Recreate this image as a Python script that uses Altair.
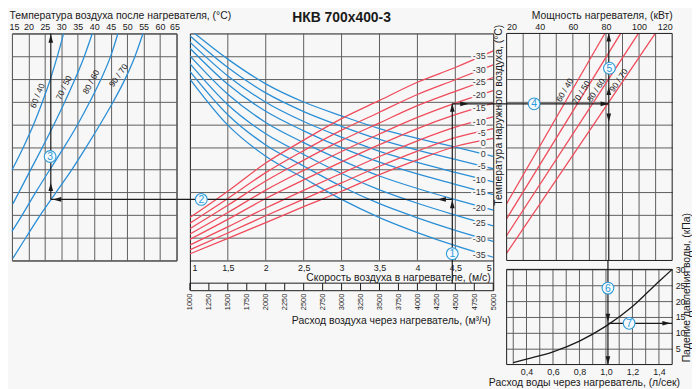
import altair as alt
import pandas as pd

FONT = "Liberation Sans"
BG = "#f7f7f7"
INK = "#1a1a1a"
GRID = "#5e5e5e"
BLUE = "#2b8fd6"
RED = "#ef4b5b"
CIRC = "#2f9ad8"

# ---------------- common grid rows (0..100 nomogram units) ----------------
grid_rows = [0, 10, 20, 30, 40, 50, 60, 70, 80, 90, 100]
inner_rows = [10, 20, 30, 40, 50, 60, 70, 80, 90]

# ---------------- left panel: air temperature after heater ----------------
left_names = ["60 / 40", "70 / 50", "80 / 60", "90 / 70"]
left_t_6040 = [30.7, 28.8, 26.7, 24.3, 21.6, 18.5, 15.0]
left_g_6040 = [100, 90, 80, 70, 60, 50, 39.8]
left_t_7050 = [39.4, 37.0, 34.2, 31.1, 27.8, 24.3, 20.7, 15.3]
left_g_7050 = [100, 90, 80, 70, 60, 50, 40, 25]
left_t_8060 = [47.2, 45.0, 42.1, 38.7, 35.0, 30.9, 26.5, 22.2, 18.1, 15.0]
left_g_8060 = [100, 90, 80, 70, 60, 50, 40, 30, 20, 12.8]
left_t_9070 = [54.8, 52.4, 49.4, 45.8, 41.8, 37.6, 33.2, 28.4, 23.6, 19.2, 15.3]
left_g_9070 = [100, 90, 80, 70, 60, 50, 40, 30, 20, 10, 1]
left_label_t = [22.7, 30.7, 39.0, 47.3]
left_label_g = [72.6, 76.1, 78.7, 81.6]
left_label_angle = [292, 296, 298, 305]
left_ticks = [15, 20, 25, 30, 35, 40, 45, 50, 55, 60, 65]

# ---------------- centre panel: air velocity ----------------
vel = [1.0, 1.5, 2.0, 2.5, 3.0, 3.5, 4.0, 4.5, 5.0]
blue_names = ["0", "-5", "-10", "-15", "-20", "-25", "-30", "-35"]
blue_0 = [101.7, 88.7, 77.8, 69.8, 63.7, 58.1, 53.8, 49.9, 45.9]
blue_m5 = [99.0, 85.0, 73.8, 65.6, 59.1, 53.3, 48.6, 44.5, 40.4]
blue_m10 = [96.2, 81.3, 69.7, 61.2, 54.3, 48.1, 43.2, 38.8, 34.6]
blue_m15 = [93.5, 77.6, 65.7, 57.1, 49.7, 43.3, 38.1, 33.5, 29.0]
blue_m20 = [90.1, 73.2, 60.8, 51.9, 44.1, 37.2, 31.7, 26.8, 22.2]
blue_m25 = [86.7, 68.6, 55.8, 46.7, 38.3, 31.1, 25.2, 20.0, 15.2]
blue_m30 = [83.3, 64.2, 50.9, 41.6, 32.6, 25.0, 18.8, 13.3, 8.4]
blue_m35 = [79.9, 59.6, 45.9, 36.3, 26.9, 18.9, 12.3, 6.5, 1.4]
blue_label_g = [46.9, 41.4, 35.6, 30.1, 23.2, 16.3, 9.4, 2.4]

red_names = ["-35", "-30", "-25", "-20", "-15", "-10", "-5", "0"]
red_m35 = [18.9, 30.5, 42.9, 53.0, 62.5, 70.5, 78.5, 85.0, 92.3]
red_m30 = [16.4, 27.3, 38.7, 48.4, 57.4, 65.3, 73.1, 79.6, 86.2]
red_m25 = [14.0, 24.3, 35.0, 44.2, 52.9, 60.6, 68.2, 74.5, 80.6]
red_m20 = [11.6, 21.1, 31.0, 39.7, 48.0, 55.7, 63.0, 69.3, 74.8]
red_m15 = [9.3, 18.1, 27.3, 35.5, 43.4, 51.0, 58.1, 64.2, 69.3]
red_m10 = [6.8, 14.8, 23.1, 30.9, 38.4, 45.8, 52.7, 58.7, 63.2]
red_m5 = [4.7, 12.1, 19.7, 27.0, 34.2, 41.5, 48.2, 54.1, 58.1]
red_0 = [2.9, 9.7, 16.7, 23.7, 30.5, 37.8, 44.3, 50.2, 53.8]
red_label_g = [90.1, 84.0, 78.5, 72.7, 67.2, 61.1, 56.0, 51.6]
curve_label_v = 4.9

vel_ticks = [1, 1.5, 2, 2.5, 3, 3.5, 4, 4.5, 5]
vel_grid = [1.5, 2, 2.5, 3, 3.5, 4, 4.5]
airflow_ticks = list(range(1000, 5001, 250))
ruler_top = -10.0      # level of the airflow ruler's upper line (below the velocity strip)
ruler_bottom = -13.1   # bottom of the centre column

# ---------------- right top: heater power ----------------
pow_kw_6040 = [20, 79.3]
pow_g_6040 = [25.0, 100]
pow_kw_7050 = [20, 88.9]
pow_g_7050 = [18.4, 100]
pow_kw_8060 = [20, 99.6]
pow_g_8060 = [11.0, 100]
pow_kw_9070 = [20, 109.8]
pow_g_9070 = [3.2, 100]
pow_label_kw = [55.0, 65.0, 74.0, 87.6]
pow_label_g = [75.1, 74.0, 75.1, 79.4]
pow_label_angle = [300, 302, 303, 304]
power_ticks = [20, 30, 40, 50, 60, 70, 80, 90, 100, 110, 120]
power_grid = [30, 40, 50, 60, 70, 80, 90, 100, 110]

# ---------------- right bottom: water pressure drop ----------------
water_flow = [0.3, 0.4, 0.6, 0.8, 1.0, 1.2, 1.4, 1.5]
pressure_drop = [0.6, 1.7, 4.0, 7.4, 12.1, 18.3, 26.2, 30.0]
flow_ticks = [0.3, 0.4, 0.5, 0.6, 0.7, 0.8, 0.9, 1.0, 1.1, 1.2, 1.3, 1.4]
dp_ticks = [5, 10, 15, 20, 25, 30]

# ---------------- worked example (arrows and numbered steps) ----------------
ex_vel = 4.46
ex_tout_g = 26.9
ex_pow_g = 69.0
ex_tair = 26.8
ex_power = 81.7
ex_flow = 1.015
ex_dp = 13.0

# ====================================================================
def lines_df(xs_list, ys_list, names):
    frames = []
    for xs, ys, n in zip(xs_list, ys_list, names):
        frames.append(pd.DataFrame({"x": xs, "y": ys, "name": n}))
    return pd.concat(frames, ignore_index=True)


def arrow_layer(X, Y, xs, ys, angs):
    df = pd.DataFrame({"x": xs, "y": ys, "ang": angs})
    return alt.Chart(df).mark_point(
        shape="M0,-1L0.55,1L-0.55,1Z", filled=True, size=72, color=INK, opacity=1, strokeWidth=0
    ).encode(x=X, y=Y, angle=alt.Angle("ang:Q", scale=None))


def step_layers(X, Y, xs, ys, nums):
    df = pd.DataFrame({"x": xs, "y": ys, "text": nums})
    c = alt.Chart(df).mark_point(
        shape="circle", filled=True, fill="#f4f9fd", stroke=CIRC, strokeWidth=1.1, size=140, opacity=1
    ).encode(x=X, y=Y)
    t = alt.Chart(df).mark_text(
        font=FONT, fontSize=10.5, color=CIRC, align="center", baseline="middle", dy=0.5
    ).encode(x=X, y=Y, text="text:N")
    return [c, t]


def vrules(X, Y, xs, y, y2, color=INK, width=1.2):
    df = pd.DataFrame({"x": xs, "y": [y] * len(xs), "y2": [y2] * len(xs)})
    return alt.Chart(df).mark_rule(color=color, strokeWidth=width).encode(x=X, y=Y, y2="y2:Q")


def hrules(X, Y, ys, x, x2, color=INK, width=1.2):
    df = pd.DataFrame({"x": [x] * len(ys), "x2": [x2] * len(ys), "y": ys})
    return alt.Chart(df).mark_rule(color=color, strokeWidth=width).encode(x=X, x2="x2:Q", y=Y)


def frame(X, Y, x, x2, y, y2):
    df = pd.DataFrame({"x": [x], "x2": [x2], "y": [y], "y2": [y2]})
    return alt.Chart(df).mark_rect(fillOpacity=0, stroke=INK, strokeWidth=1).encode(
        x=X, x2="x2:Q", y=Y, y2="y2:Q")


TITLE_FS = 10.5
LINE_W = 1.3

# ---------------- left panel ----------------
XL = alt.X("x:Q", scale=alt.Scale(domain=[15, 65], nice=False, zero=False),
           axis=alt.Axis(orient="top", values=left_ticks, grid=True, ticks=False, domain=False,
                         labelFontSize=9, labelPadding=2, labelFlush=True, labelFlushOffset=3,
                         title="Температура воздуха после нагревателя, (°C)", titleFontSize=TITLE_FS,
                         titleAnchor="start", titleAlign="left", titleX=-3, titlePadding=2))
YL = alt.Y("y:Q", scale=alt.Scale(domain=[0, 100], nice=False, zero=False),
           axis=alt.Axis(values=grid_rows, grid=True, labels=False, ticks=False, domain=False, title=None))

left_df = lines_df([left_t_6040, left_t_7050, left_t_8060, left_t_9070],
                   [left_g_6040, left_g_7050, left_g_8060, left_g_9070], left_names)
left_lines = alt.Chart(left_df).mark_line(color=BLUE, strokeWidth=LINE_W, interpolate="monotone").encode(
    x=XL, y=YL, detail="name:N")
left_lab_df = pd.DataFrame({"x": left_label_t, "y": left_label_g, "text": left_names, "ang": left_label_angle})
left_labels = alt.Chart(left_lab_df).mark_text(font=FONT, fontSize=8.5, color=INK).encode(
    x=XL, y=YL, text="text:N", angle=alt.Angle("ang:Q", scale=None))

left = alt.layer(
    left_lines, left_labels,
    vrules(XL, YL, [ex_tair], ex_tout_g, 100),
    hrules(XL, YL, [ex_tout_g], ex_tair, 65),
    arrow_layer(XL, YL, [ex_tair, ex_tair, 28.7], [97.8, 32.4, ex_tout_g], [0, 0, 270]),
    *step_layers(XL, YL, [26.6], [45.8], ["3"]),
).properties(width=166, height=229)

# ---------------- centre panel (velocity chart + airflow ruler) ----------------
XC = alt.X("x:Q", scale=alt.Scale(domain=[1, 5], nice=False, zero=False),
           axis=alt.Axis(orient="bottom", offset=-30, values=vel_ticks, format="~g",
                         labelExpr="replace(datum.label, '.', ',')", labelFlush=True, labelFlushOffset=-2,
                         labelFontSize=9, labelPadding=3, ticks=False, grid=False,
                         domain=True, domainColor=INK, domainWidth=1,
                         title="Скорость воздуха в нагревателе, (м/с)", titleFontSize=TITLE_FS,
                         titleAlign="right", titleX=303, titlePadding=0))
YC = alt.Y("y:Q", scale=alt.Scale(domain=[ruler_bottom, 100], nice=False, zero=False),
           axis=alt.Axis(values=inner_rows, grid=True, labels=False, ticks=False, domain=False, title=None))
XA = alt.X("x:Q", scale=alt.Scale(domain=[1000, 5000], nice=False, zero=False),
           axis=alt.Axis(orient="bottom", values=airflow_ticks, format="d", labelAngle=270, labelFontSize=7.5,
                         labelPadding=3, ticks=False, domain=False, grid=False,
                         title="Расход воздуха через нагреватель, (м³/ч)", titleFontSize=TITLE_FS,
                         titleAlign="right", titleX=303, titlePadding=6))

blue_df = lines_df([vel] * 8,
                   [blue_0, blue_m5, blue_m10, blue_m15, blue_m20, blue_m25, blue_m30, blue_m35], blue_names)
red_df = lines_df([vel] * 8,
                  [red_m35, red_m30, red_m25, red_m20, red_m15, red_m10, red_m5, red_0], red_names)
blue_lines = alt.Chart(blue_df).mark_line(color=BLUE, strokeWidth=LINE_W, interpolate="monotone", clip=True).encode(
    x=XC, y=YC, detail="name:N")
red_lines = alt.Chart(red_df).mark_line(color=RED, strokeWidth=LINE_W, interpolate="monotone", clip=True).encode(
    x=XC, y=YC, detail="name:N")

clab_df = pd.DataFrame({
    "x": [curve_label_v] * 16,
    "y": red_label_g + blue_label_g,
    "text": red_names + blue_names,
})
clab_halo = alt.Chart(clab_df).mark_text(font=FONT, fontSize=9, align="right", baseline="middle",
                                         color=BG, stroke=BG, strokeWidth=4, strokeJoin="round").encode(
    x=XC, y=YC, text="text:N")
clab = alt.Chart(clab_df).mark_text(font=FONT, fontSize=9, align="right", baseline="middle", color="#333").encode(
    x=XC, y=YC, text="text:N")

center_curves = alt.layer(
    vrules(XC, YC, vel_grid, 0, 100, color=GRID, width=1),
    blue_lines, red_lines, clab_halo, clab,
    vrules(XC, YC, [ex_vel], ruler_top, ex_pow_g),
    hrules(XC, YC, [ex_pow_g], ex_vel, 5),
    hrules(XC, YC, [ex_tout_g], 0.824, ex_vel),
    arrow_layer(XC, YC, [ex_vel, 4.62, ex_vel, 4.32], [67.4, ex_pow_g, 24.8, ex_tout_g], [0, 90, 0, 270]),
    *step_layers(XC, YC, [ex_vel, 1.15], [3.0, ex_tout_g], ["1", "2"]),
)
center_ruler = alt.layer(
    vrules(XA, YC, airflow_ticks, ruler_bottom, ruler_top, width=1),
    hrules(XA, YC, [ruler_top], 1000, 5000, width=1),
)
center = alt.layer(center_curves, center_ruler).resolve_scale(x="independent").properties(
    width=306, height=259,
    title=alt.TitleParams("НКВ 700x400-3", font=FONT, fontSize=14, fontWeight="bold",
                          color=INK, offset=8, anchor="middle"))

# ---------------- right column: power (top) + pressure drop (bottom) ----------------
XP = alt.X("x:Q", scale=alt.Scale(domain=[20, 120], nice=False, zero=False),
           axis=alt.Axis(orient="top", values=power_ticks, grid=False, ticks=False, domain=False,
                         labelFontSize=9, labelPadding=2,
                         title="Мощность нагревателя, (кВт)", titleFontSize=TITLE_FS,
                         titleX=96, titleAlign="center", titlePadding=2))
YP = alt.Y("y:Q", scale=alt.Scale(domain=[0, 100], range=[229, 0], nice=False, zero=False),
           axis=alt.Axis(orient="left", values=inner_rows, grid=True, labels=False, ticks=False, domain=False,
                         title="Температура наружного воздуха, (°C)", titleFontSize=TITLE_FS,
                         titleAngle=270, titleX=-3, titleY=82, titleAlign="center", titleBaseline="bottom"))

pow_df = lines_df([pow_kw_6040, pow_kw_7050, pow_kw_8060, pow_kw_9070],
                  [pow_g_6040, pow_g_7050, pow_g_8060, pow_g_9070], left_names)
pow_lines = alt.Chart(pow_df).mark_line(color=RED, strokeWidth=LINE_W).encode(x=XP, y=YP, detail="name:N")
pow_lab_df = pd.DataFrame({"x": pow_label_kw, "y": pow_label_g, "text": left_names, "ang": pow_label_angle})
pow_labels = alt.Chart(pow_lab_df).mark_text(font=FONT, fontSize=8.5, color=INK).encode(
    x=XP, y=YP, text="text:N", angle=alt.Angle("ang:Q", scale=None))

power_group = alt.layer(
    vrules(XP, YP, power_grid, 0, 100, color=GRID, width=1),
    pow_lines, pow_labels,
    hrules(XP, YP, [ex_pow_g], 11.6, ex_power),
    vrules(XP, YP, [ex_power], 0, 100),
    arrow_layer(XP, YP, [ex_power, ex_power, ex_power, 79.3], [98.3, 74.7, 62.9, ex_pow_g], [0, 0, 180, 90]),
    *step_layers(XP, YP, [36.6, 82.1], [ex_pow_g, 84.7], ["4", "5"]),
    frame(XP, YP, 20, 120, 0, 100),
)

XW = alt.X("x:Q", scale=alt.Scale(domain=[0.25, 1.5], nice=False, zero=False),
           axis=alt.Axis(orient="bottom", values=flow_ticks, grid=False, ticks=False, domain=False,
                         labelFontSize=9, labelPadding=3,
                         labelExpr="round(datum.value*10) % 2 == 0 ? replace(format(datum.value, '.1f'), '.', ',') : ''",
                         title="Расход воды через нагреватель, (л/сек)", titleFontSize=TITLE_FS,
                         titleX=78, titleAlign="center", titlePadding=1))
YW = alt.Y("y:Q", scale=alt.Scale(domain=[0, 30], range=[334, 238], nice=False, zero=False),
           axis=alt.Axis(orient="right", values=dp_ticks, grid=True, ticks=False, domain=False,
                         labelFontSize=9, labelPadding=3,
                         title="Падение давления воды, (кПа)", titleFontSize=TITLE_FS,
                         titleAngle=270, titleX=19, titleY=256, titleAlign="center", titleBaseline="bottom"))

dp_df = pd.DataFrame({"x": water_flow, "y": pressure_drop})
dp_line = alt.Chart(dp_df).mark_line(color=INK, strokeWidth=LINE_W, interpolate="monotone").encode(x=XW, y=YW)

drop_group = alt.layer(
    vrules(XW, YW, flow_ticks, 0, 30, color=GRID, width=1),
    dp_line,
    vrules(XW, YW, [ex_flow], 0, 32.8),
    hrules(XW, YW, [ex_dp], ex_flow, 1.5),
    arrow_layer(XW, YW, [ex_flow, ex_flow, 1.458], [14.7, 1.3, ex_dp], [180, 180, 90]),
    *step_layers(XW, YW, [ex_flow, 1.175], [24.1, ex_dp], ["6", "7"]),
    frame(XW, YW, 0.25, 1.5, 0, 30),
)

right = alt.layer(power_group, drop_group).resolve_scale(x="independent", y="independent").properties(
    width=167, height=334, view=alt.ViewBackground(strokeOpacity=0))

chart = alt.hconcat(left, center, right, spacing=13.5, bounds="flush").properties(
    padding=0, background=BG
).configure_view(
    stroke=INK, strokeWidth=1
).configure_axis(
    labelFont=FONT, titleFont=FONT, labelColor=INK, titleColor=INK, titleFontWeight="normal",
    gridColor=GRID, gridWidth=1, gridOpacity=1
)

chart.save("out.html", embed_options={"renderer": "svg", "actions": False})
